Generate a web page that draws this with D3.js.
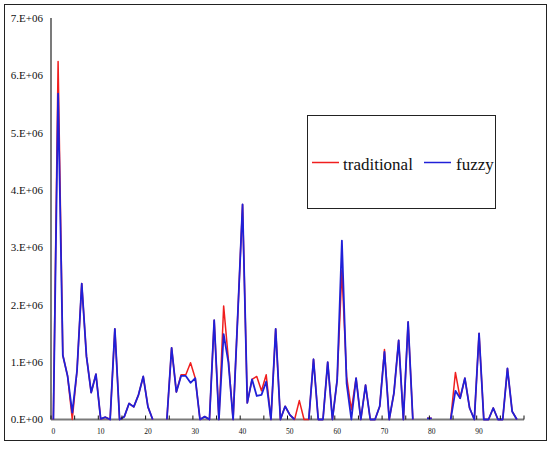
<!DOCTYPE html>
<html>
<head>
<meta charset="utf-8">
<script src="https://cdn.jsdelivr.net/npm/d3@7"></script>
<style>
  body { margin: 0; background: #fff; }
  svg { display: block; }
</style>
</head>
<body>
<div id="chart"></div>
<script>
// categories 0..99, values in millions (null = blank cell, line breaks)
const categories = d3.range(100);
const traditional = [
  0, 6.24, 1.12, 0.76, 0, 0.85, 2.37, 1.1, 0.47, 0.79,
  0.01, 0.04, 0, 1.58, 0, 0.05, 0.28, 0.22, 0.43, 0.75,
  0.22, 0, null, null, 0, 1.25, 0.48, 0.78, 0.78, 0.99,
  0.72, 0, 0.05, 0, 1.73, 0, 1.98, 1.05, 0, 1.85,
  3.75, 0.29, 0.7, 0.75, 0.5, 0.78, 0, 1.58, 0, 0.23,
  0.08, 0, 0.33, 0, 0, 1.05, 0, 0, 1.0, 0,
  0.69, 2.6, 0.75, 0.17, 0.72, 0, 0.6, 0, 0, 0.23,
  1.22, 0, 0.46, 1.38, 0, 1.7, 0, null, null, 0.02,
  0.02, null, null, null, 0, 0.82, 0.37, 0.72, 0.2, 0,
  1.5, 0, 0, 0.2, 0, 0, 0.89, 0.14, 0, null
];
const fuzzy = [
  0, 5.68, 1.12, 0.76, 0.12, 0.85, 2.37, 1.1, 0.47, 0.79,
  0.01, 0.04, 0, 1.58, 0, 0.05, 0.28, 0.22, 0.43, 0.75,
  0.22, 0, null, null, 0, 1.25, 0.48, 0.76, 0.76, 0.64,
  0.72, 0, 0.05, 0, 1.73, 0, 1.49, 1.0, 0, 1.85,
  3.75, 0.29, 0.7, 0.41, 0.43, 0.66, 0, 1.58, 0, 0.23,
  0.08, 0, null, null, 0, 1.05, 0, 0, 1.0, 0,
  0.69, 3.12, 0.63, 0, 0.72, 0, 0.6, 0, 0, 0.23,
  1.18, 0, 0.46, 1.38, 0, 1.7, 0, null, null, 0.02,
  0.02, null, null, null, 0, 0.5, 0.37, 0.72, 0.2, 0,
  1.5, 0, 0, 0.2, 0, 0, 0.89, 0.14, 0, null
];
const yTicks = [0, 1, 2, 3, 4, 5, 6, 7];
const yTickLabels = ['0.E+00', '1.E+06', '2.E+06', '3.E+06', '4.E+06', '5.E+06', '6.E+06', '7.E+06'];
const series = [
  { name: 'traditional', values: traditional, color: '#f01e1e', width: 1.5 },
  { name: 'fuzzy', values: fuzzy, color: '#2020d8', width: 1.8 }
];

const W = 551, H = 450;
const svg = d3.select('#chart').append('svg')
  .attr('width', W)
  .attr('height', H);

// chart frame
svg.append('rect')
  .attr('x', 4.5).attr('y', 4.5)
  .attr('width', 542).attr('height', 436)
  .attr('fill', '#fff')
  .attr('stroke', '#222')
  .attr('stroke-width', 1);

const x = d3.scaleBand()
  .domain(categories)
  .range([51, 524]);
const cx = i => x(i) + x.bandwidth() / 2;

const y = d3.scaleLinear()
  .domain([0, 7])
  .range([419.5, 18]);

// y axis
svg.append('line')
  .attr('x1', 51).attr('x2', 51)
  .attr('y1', y(7)).attr('y2', y(0))
  .attr('stroke', '#222').attr('stroke-width', 1.2);

svg.append('g')
  .selectAll('text')
  .data(yTicks)
  .join('text')
  .attr('x', 43)
  .attr('y', d => y(d))
  .attr('dy', '0.35em')
  .attr('text-anchor', 'end')
  .attr('font-family', '"Liberation Serif", serif')
  .attr('font-size', 11)
  .attr('fill', '#111')
  .text((d, i) => yTickLabels[i]);

const line = d3.line()
  .defined(d => d[1] != null)
  .x(d => cx(d[0]))
  .y(d => y(d[1]));

// x axis line
svg.append('line')
  .attr('x1', 51).attr('x2', 524)
  .attr('y1', y(0)).attr('y2', y(0))
  .attr('stroke', '#7a7a7a').attr('stroke-width', 2);

// series (traditional underneath, fuzzy on top)
series.forEach(s => {
  svg.append('path')
    .datum(categories.map(c => [c, s.values[c]]))
    .attr('fill', 'none')
    .attr('stroke', s.color)
    .attr('stroke-width', s.width)
    .attr('stroke-linejoin', 'round')
    .attr('d', line);
});

// x tick marks every 5 categories, between categories
const tickIdx = d3.range(0, 101, 5);
svg.append('g')
  .selectAll('line')
  .data(tickIdx)
  .join('line')
  .attr('x1', d => d < 100 ? x(d) : x(99) + x.bandwidth())
  .attr('x2', d => d < 100 ? x(d) : x(99) + x.bandwidth())
  .attr('y1', y(0) - 4)
  .attr('y2', y(0))
  .attr('stroke', '#111')
  .attr('stroke-width', 1);

svg.append('g')
  .selectAll('text')
  .data(categories.filter(c => c % 10 === 0))
  .join('text')
  .attr('x', d => cx(d))
  .attr('y', 433.5)
  .attr('text-anchor', 'middle')
  .attr('font-family', '"Liberation Serif", serif')
  .attr('font-size', 7.5)
  .attr('fill', '#111')
  .text(d => d);

// legend
const lg = svg.append('g');
lg.append('rect')
  .attr('x', 307.5).attr('y', 115.5)
  .attr('width', 188).attr('height', 93)
  .attr('fill', '#fff')
  .attr('stroke', '#222')
  .attr('stroke-width', 1);

const legendItems = [
  { s: series[0], lx: 312, tx: 343 },
  { s: series[1], lx: 424, tx: 456 }
];
legendItems.forEach(d => {
  lg.append('line')
    .attr('x1', d.lx).attr('x2', d.lx + 27)
    .attr('y1', 162.5).attr('y2', 162.5)
    .attr('stroke', d.s.color).attr('stroke-width', 1.5);
  lg.append('text')
    .attr('x', d.tx).attr('y', 169.5)
    .attr('font-family', '"Liberation Serif", serif')
    .attr('font-size', 17)
    .attr('fill', '#111')
    .text(d.s.name);
});
</script>
</body>
</html>
